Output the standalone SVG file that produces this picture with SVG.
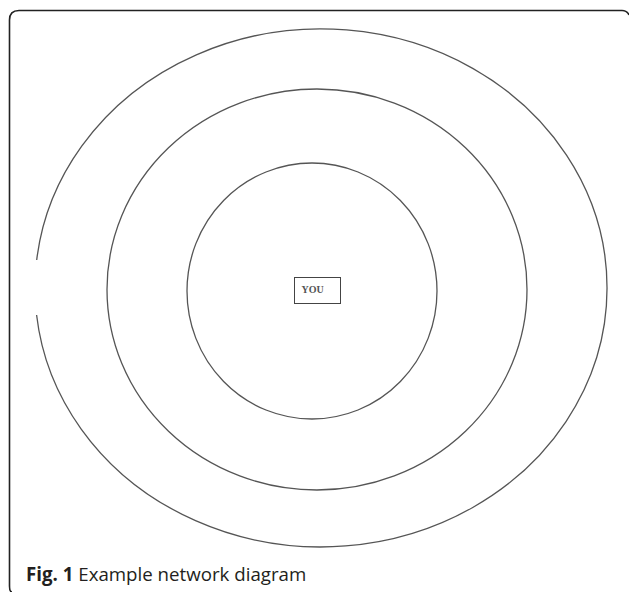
<svg xmlns="http://www.w3.org/2000/svg" width="629" height="592" viewBox="0 0 629 592">
<style>
.ring{fill:none;stroke:#555;stroke-width:1.3}
.frame{fill:none;stroke:#222;stroke-width:1.6}
.cap{font-family:"Open Sans","Noto Sans",sans-serif;font-size:18.7px;fill:#231f20}
.you{font-family:"Liberation Serif",serif;font-weight:bold;font-size:10px;fill:#555}
</style>
<rect width="629" height="592" fill="#fff"/>
<path class="frame" d="M 12,592 Q 9.5,592 9.5,586 L 9.5,20 Q 9.5,10.5 19,10.5 L 622,10.5 Q 627,10.5 629,15"/>
<g id="outer-ring"><path class="ring" d="M 36.7,260 A 286 259 0 1 1 36.6,315"/></g>
<g id="middle-ring"><ellipse class="ring" cx="317" cy="289.5" rx="210" ry="200.5"/></g>
<g id="inner-ring"><ellipse class="ring" cx="312" cy="291" rx="125" ry="128"/></g>
<g id="you">
<rect x="294.5" y="277.5" width="46" height="26" fill="#fff" stroke="#444" stroke-width="1"/>
<text class="you" x="301.5" y="293">YOU</text>
</g>
<g id="connectors"/>
<text class="cap" x="26" y="581"><tspan font-weight="bold">Fig. 1</tspan> Example network diagram</text>
</svg>
